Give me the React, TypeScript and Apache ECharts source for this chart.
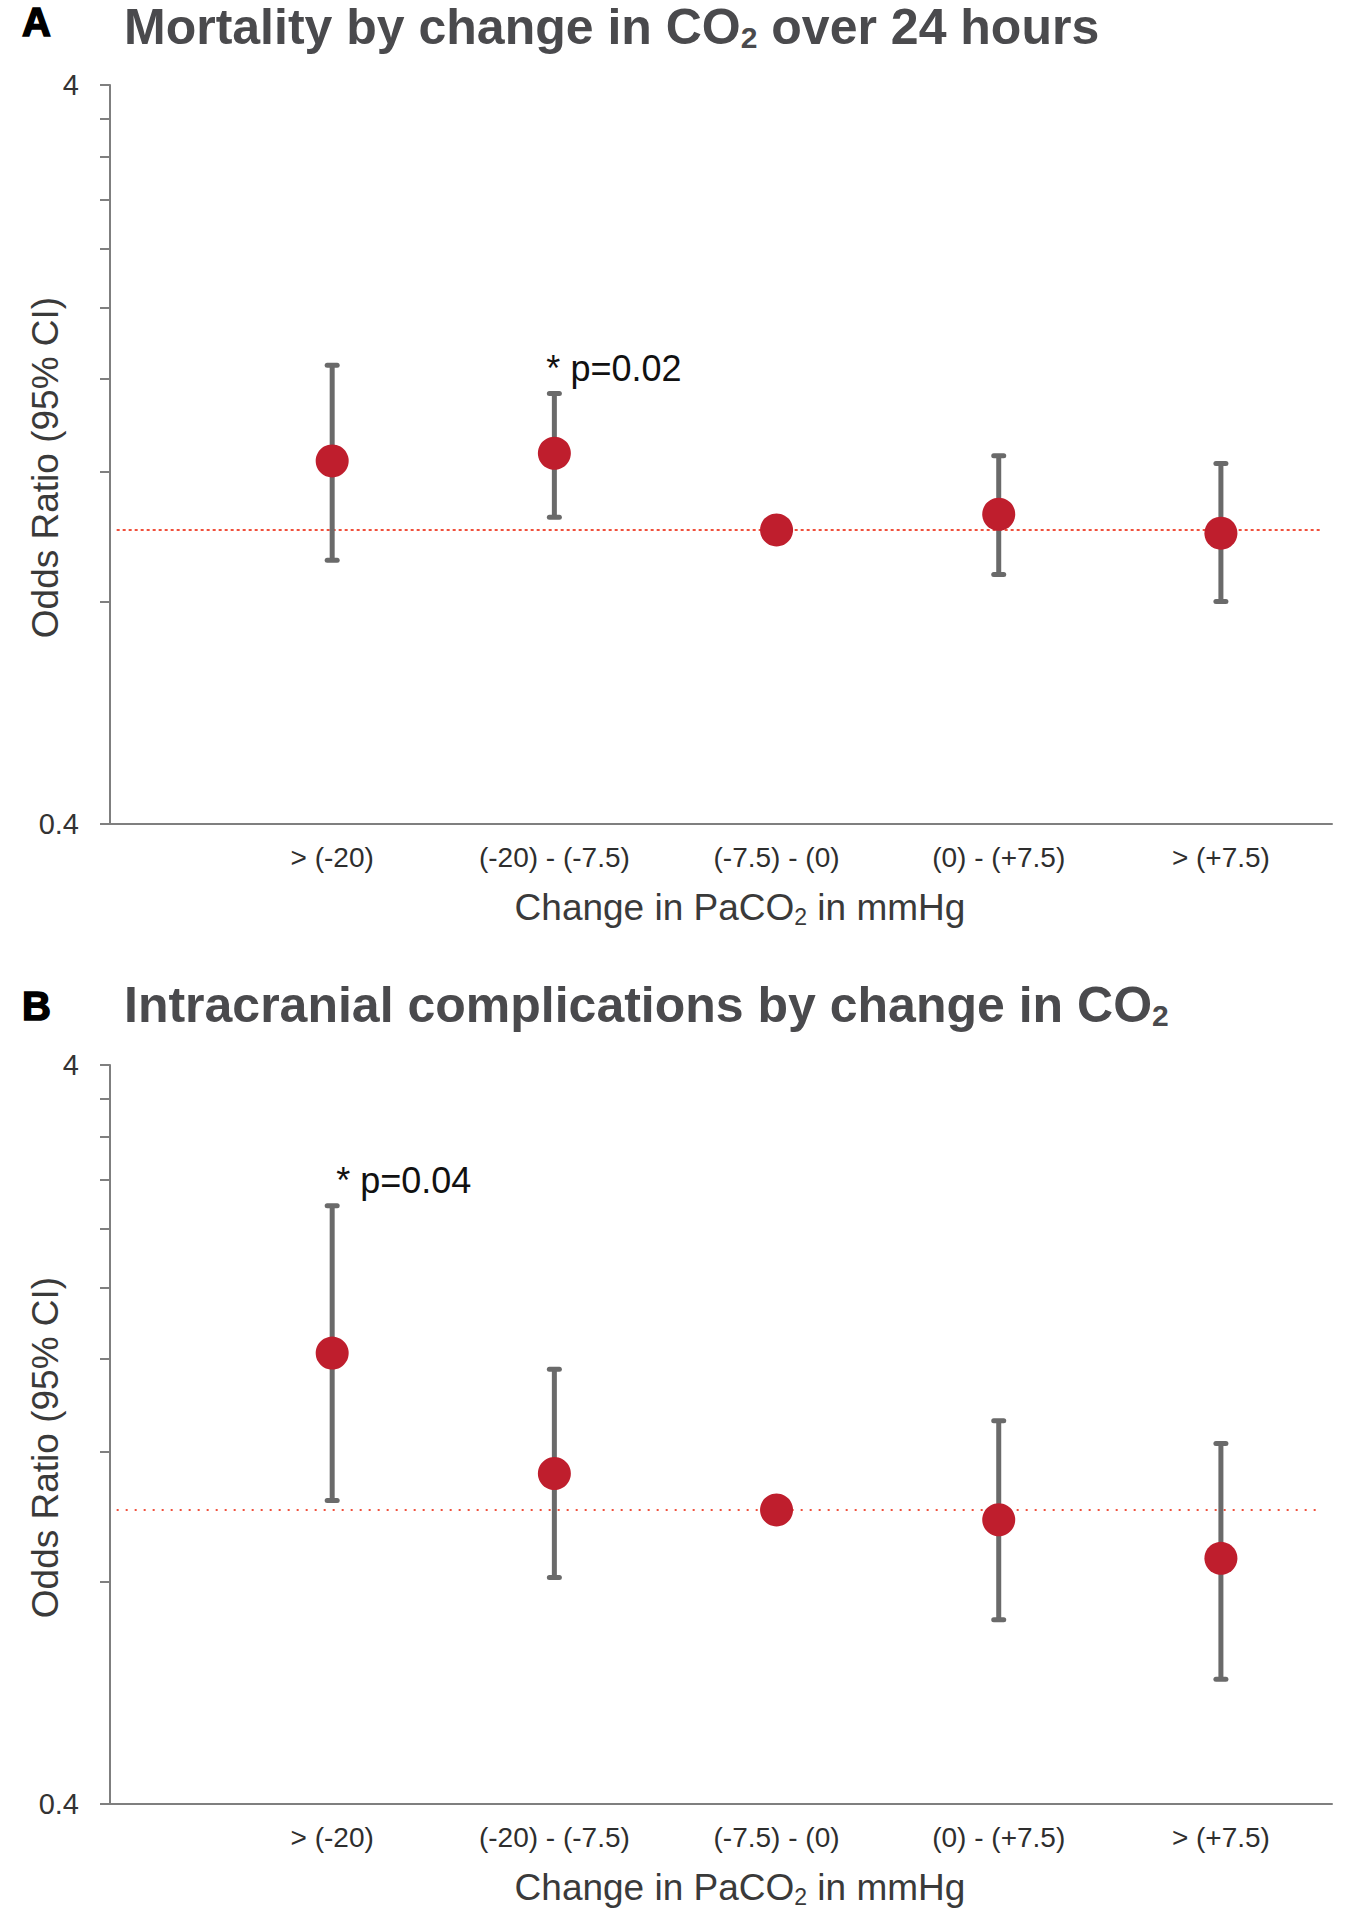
import React, { useEffect, useRef } from "react";
import * as echarts from "echarts";

// ---- Data ----
const categories = ["> (-20)", "(-20) - (-7.5)", "(-7.5) - (0)", "(0) - (+7.5)", "> (+7.5)"];
const xPos = [1, 2, 3, 4, 5];

// Panel A: Mortality
const orA = [1.24, 1.27, 1.0, 1.05, 0.99];
const lowA = [0.91, 1.04, null, 0.87, 0.8];
const highA = [1.67, 1.53, null, 1.26, 1.23];
const notesA = ["", "* p=0.02", "", "", ""];

// Panel B: Intracranial complications
const orB = [1.63, 1.12, 1.0, 0.97, 0.86];
const lowB = [1.03, 0.81, null, 0.71, 0.59];
const highB = [2.58, 1.55, null, 1.32, 1.23];
const notesB = ["* p=0.04", "", "", "", ""];

const yTickValues = [0.4, 0.8, 1.2, 1.6, 2.0, 2.4, 2.8, 3.2, 3.6, 4.0];
const yLabelValues = [0.4, 4];
const refValue = 1;

const FONT = "'Liberation Sans', Arial, Helvetica, sans-serif";
const RED = "#bf1e2d";
const BAR = "#6a6a6a";
const AXIS = "#7f7f7f";

function makeX(gridIndex: number) {
  return {
    type: "value",
    gridIndex,
    min: 0,
    max: 5.5,
    interval: 1,
    axisLine: { show: true, lineStyle: { color: AXIS, width: 2 } },
    axisTick: { show: false },
    splitLine: { show: false },
    axisLabel: {
      margin: 19,
      fontSize: 28,
      fontFamily: FONT,
      color: "#2e2e2e",
      formatter: (v: number) => {
        const i = xPos.indexOf(Math.round(v * 1000) / 1000);
        return i >= 0 ? categories[i] : "";
      },
    },
    name: "{m|Change in PaCO}{s|2}{m| in mmHg}",
    nameLocation: "middle",
    nameGap: 62,
    nameMoveOverlap: false,
    nameTextStyle: {
      padding: [0, 0, 0, 38],
      rich: {
        m: { fontSize: 37, fontFamily: FONT, color: "#3a3a3a", lineHeight: 42 },
        s: { fontSize: 23, fontFamily: FONT, color: "#3a3a3a", lineHeight: 23, verticalAlign: "bottom" },
      },
    },
  };
}

function makeY(gridIndex: number) {
  return {
    type: "log",
    logBase: 10,
    gridIndex,
    min: 0.4,
    max: 4,
    axisLine: { show: true, lineStyle: { color: AXIS, width: 2 } },
    axisTick: {
      show: true,
      customValues: yTickValues,
      length: 10,
      lineStyle: { color: AXIS, width: 2 },
    },
    splitLine: { show: false },
    axisLabel: {
      customValues: yLabelValues,
      margin: 31,
      fontSize: 29,
      fontFamily: FONT,
      color: "#333",
      formatter: (v: number) => String(+Number(v).toPrecision(3)),
    },
    name: "Odds Ratio (95% CI)",
    nameLocation: "middle",
    nameGap: 46,
    nameMoveOverlap: false,
    nameTextStyle: {
      fontSize: 37,
      fontFamily: FONT,
      color: "#3a3a3a",
      padding: [0, 26, 0, 0],
    },
  };
}

function errorSeries(axisIndex: number, low: (number | null)[], high: (number | null)[], notes: string[], noteDx: number) {
  const data: any[] = [];
  const noteList: string[] = [];
  xPos.forEach((x, i) => {
    if (low[i] != null && high[i] != null) {
      data.push([x, low[i], high[i]]);
      noteList.push(notes[i]);
    }
  });
  return {
    type: "custom",
    xAxisIndex: axisIndex,
    yAxisIndex: axisIndex,
    clip: false,
    z: 3,
    encode: { x: 0, y: [1, 2] },
    data,
    renderItem: (params: any, api: any) => {
      const x = api.value(0);
      const pLo = api.coord([x, api.value(1)]);
      const pHi = api.coord([x, api.value(2)]);
      const cw = 5;
      const style = { stroke: BAR, lineWidth: 5, lineCap: "round" };
      const children: any[] = [
        { type: "line", shape: { x1: pHi[0], y1: pHi[1], x2: pLo[0], y2: pLo[1] }, style: { stroke: BAR, lineWidth: 5 } },
        { type: "line", shape: { x1: pHi[0] - cw, y1: pHi[1], x2: pHi[0] + cw, y2: pHi[1] }, style },
        { type: "line", shape: { x1: pLo[0] - cw, y1: pLo[1], x2: pLo[0] + cw, y2: pLo[1] }, style },
      ];
      const note = noteList[params.dataIndex];
      if (note) {
        children.push({
          type: "text",
          x: pHi[0] + noteDx,
          y: pHi[1] - 25,
          style: {
            text: note,
            fill: "#111",
            font: `36px ${FONT}`,
            textAlign: "left",
            textVerticalAlign: "middle",
          },
        });
      }
      return { type: "group", children };
    },
  };
}

function pointSeries(axisIndex: number, values: number[], dash: number[]) {
  return {
    type: "scatter",
    xAxisIndex: axisIndex,
    yAxisIndex: axisIndex,
    symbol: "circle",
    symbolSize: 33,
    z: 4,
    itemStyle: { color: RED, opacity: 1 },
    data: xPos.map((x, i) => [x, values[i]]),
    markLine: {
      silent: true,
      symbol: ["none", "none"],
      label: { show: false },
      z: 1,
      lineStyle: { color: "#f0503c", width: 2, type: dash, opacity: 1 },
      data: [[{ coord: [0.03, refValue] }, { coord: [5.45, refValue] }]],
    },
  };
}

const titleRich = {
  m: { fontSize: 50, fontWeight: "bold", fontFamily: FONT, color: "#4a4a4d", lineHeight: 50 },
  s: { fontSize: 30, fontWeight: "bold", fontFamily: FONT, color: "#4a4a4d", lineHeight: 30, verticalAlign: "bottom" },
};

const letterStyle = {
  fontSize: 40,
  fontWeight: "bold",
  fontFamily: FONT,
  color: "#000",
  lineHeight: 40,
  textBorderColor: "#000",
  textBorderWidth: 1.5,
};

export default function App() {
  const ref = useRef<HTMLDivElement>(null);
  useEffect(() => {
    if (!ref.current) return;
    const chart = echarts.init(ref.current, undefined, { renderer: "svg" });
    chart.setOption({
      animation: false,
      backgroundColor: "#ffffff",
      title: [
        { text: "A", left: 22, top: 2, padding: 0, textStyle: letterStyle },
        {
          text: "{m|Mortality by change in CO}{s|2}{m| over 24 hours}",
          left: 124,
          top: 2,
          padding: 0,
          textStyle: { rich: titleRich },
        },
        { text: "B", left: 22, top: 986, padding: 0, textStyle: letterStyle },
        {
          text: "{m|Intracranial complications by change in CO}{s|2}",
          left: 124,
          top: 980,
          padding: 0,
          textStyle: { rich: titleRich },
        },
      ],
      grid: [
        { left: 110, right: 16, top: 85, height: 739, outerBoundsMode: "none", containLabel: false },
        { left: 110, right: 16, top: 1065, height: 739, outerBoundsMode: "none", containLabel: false },
      ],
      xAxis: [makeX(0), makeX(1)],
      yAxis: [makeY(0), makeY(1)],
      series: [
        errorSeries(0, lowA, highA, notesA, -8),
        pointSeries(0, orA, [3, 3]),
        errorSeries(1, lowB, highB, notesB, 4),
        pointSeries(1, orB, [2, 7]),
      ],
    });
    return () => chart.dispose();
  }, []);
  return <div ref={ref} style={{ position: "absolute", left: 0, top: 0, width: 1348, height: 1920 }} />;
}
